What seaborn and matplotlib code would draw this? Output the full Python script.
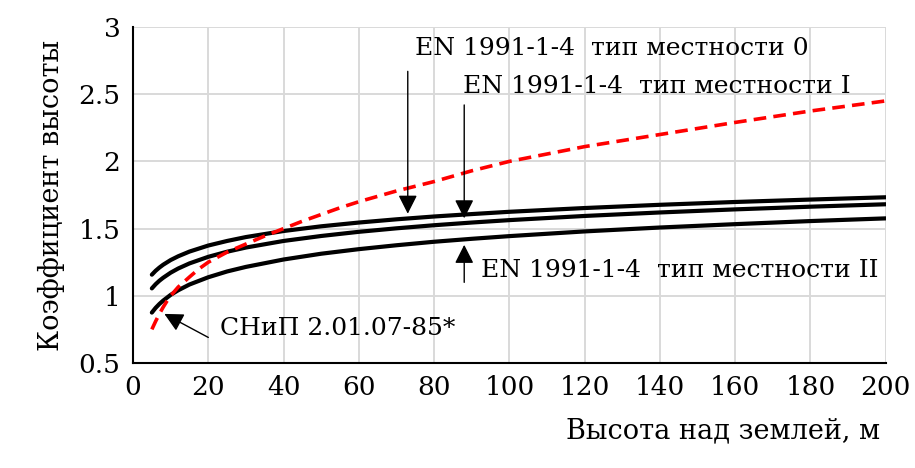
import numpy as np
import pandas as pd
import matplotlib
matplotlib.use('Agg')
import matplotlib.pyplot as plt
import seaborn as sns

sns.set_style('whitegrid')
plt.rcParams['font.family'] = ['DejaVu Serif']
plt.rcParams['text.color'] = 'black'
plt.rcParams['axes.labelcolor'] = 'black'
plt.rcParams['xtick.color'] = 'black'
plt.rcParams['ytick.color'] = 'black'

# Heights above ground, m
heights = [5, 6, 7, 8, 10, 12, 15, 20, 25, 30, 40, 50, 60, 70, 80, 90, 100,
           120, 140, 160, 180, 200]

# EN 1991-1-4 terrain category curves
en_type0 = [1.157, 1.186, 1.210, 1.231, 1.266, 1.294, 1.329, 1.374, 1.408, 1.437,
            1.482, 1.517, 1.545, 1.569, 1.590, 1.608, 1.625, 1.653, 1.677, 1.698,
            1.716, 1.733]
en_type1 = [1.055, 1.086, 1.112, 1.134, 1.172, 1.203, 1.241, 1.290, 1.328, 1.359,
            1.408, 1.445, 1.476, 1.502, 1.525, 1.545, 1.563, 1.594, 1.620, 1.643,
            1.663, 1.681]
en_type2 = [0.875, 0.910, 0.939, 0.964, 1.007, 1.041, 1.084, 1.138, 1.181, 1.215,
            1.270, 1.313, 1.347, 1.376, 1.402, 1.424, 1.444, 1.479, 1.508, 1.533,
            1.556, 1.576]

# СНиП 2.01.07-85* curve
snip_heights = [5, 6, 7, 8, 9, 10, 12, 15, 17.5, 20, 25, 30, 35, 40, 45, 50, 55, 60,
                70, 80, 90, 100, 120, 140, 160, 180, 200]
snip_vals = [0.75, 0.81, 0.865, 0.915, 0.96, 1.0, 1.065, 1.14, 1.2, 1.25, 1.325,
             1.385, 1.445, 1.5, 1.555, 1.605, 1.655, 1.7, 1.78, 1.85, 1.93, 2.0,
             2.11, 2.2, 2.29, 2.375, 2.45]

x_ticks = [0, 20, 40, 60, 80, 100, 120, 140, 160, 180, 200]
y_ticks = [0.5, 1, 1.5, 2, 2.5, 3]

fig = plt.figure(figsize=(9.15, 4.68), dpi=100)
ax = fig.add_axes([0.1454, 0.2244, 0.8226, 0.7179])

for vals in [en_type0, en_type1, en_type2]:
    sns.lineplot(x=heights, y=vals, ax=ax, color='black', lw=3, sort=False)
sns.lineplot(x=snip_heights, y=snip_vals, ax=ax, color='#ff0000', lw=2.6,
             sort=False, linestyle=(0, (3.5, 2)))

ax.set_xlim(0, 200)
ax.set_ylim(0.5, 3)
ax.set_xticks(x_ticks)
ax.set_yticks(y_ticks)
ax.set_yticklabels([f'{v:g}' for v in y_ticks])
ax.tick_params(labelsize=19, length=0, pad=9)
ax.grid(True, color='#d9d9d9', lw=1.4)
for s in ['top', 'right']:
    ax.spines[s].set_visible(False)
for s in ['left', 'bottom']:
    ax.spines[s].set_color('black')
    ax.spines[s].set_linewidth(1.5)

ax.set_ylabel('Коэффициент высоты', fontsize=19.5, labelpad=10)
ax.set_xlabel('Высота над землей, м', fontsize=19.5, loc='right', labelpad=12)
ax.xaxis.label.set_x(0.992)

arrow = dict(arrowstyle='-|>,head_length=0.95,head_width=0.48', color='black', lw=1,
             mutation_scale=12, shrinkA=0, shrinkB=1)
fs = 18

ax.text(75, 2.84, 'EN 1991-1-4  тип местности 0', fontsize=fs, va='center')
ax.annotate('', xy=(73, np.interp(73, heights, en_type0) + 0.025), xytext=(73, 2.67), arrowprops=arrow)

ax.text(87.6, 2.56, 'EN 1991-1-4  тип местности I', fontsize=fs, va='center')
ax.annotate('', xy=(88, np.interp(88, heights, en_type1) + 0.025), xytext=(88, 2.42), arrowprops=arrow)

ax.text(92.4, 1.19, 'EN 1991-1-4  тип местности II', fontsize=fs, va='center')
ax.annotate('', xy=(88, np.interp(88, heights, en_type2) - 0.03), xytext=(88, 1.1), arrowprops=arrow)

ax.text(23, 0.76, 'СНиП 2.01.07-85*', fontsize=fs, va='center')
ax.annotate('', xy=(8, 0.87), xytext=(20, 0.69), arrowprops=arrow)

fig.savefig('out.png', dpi=100)
